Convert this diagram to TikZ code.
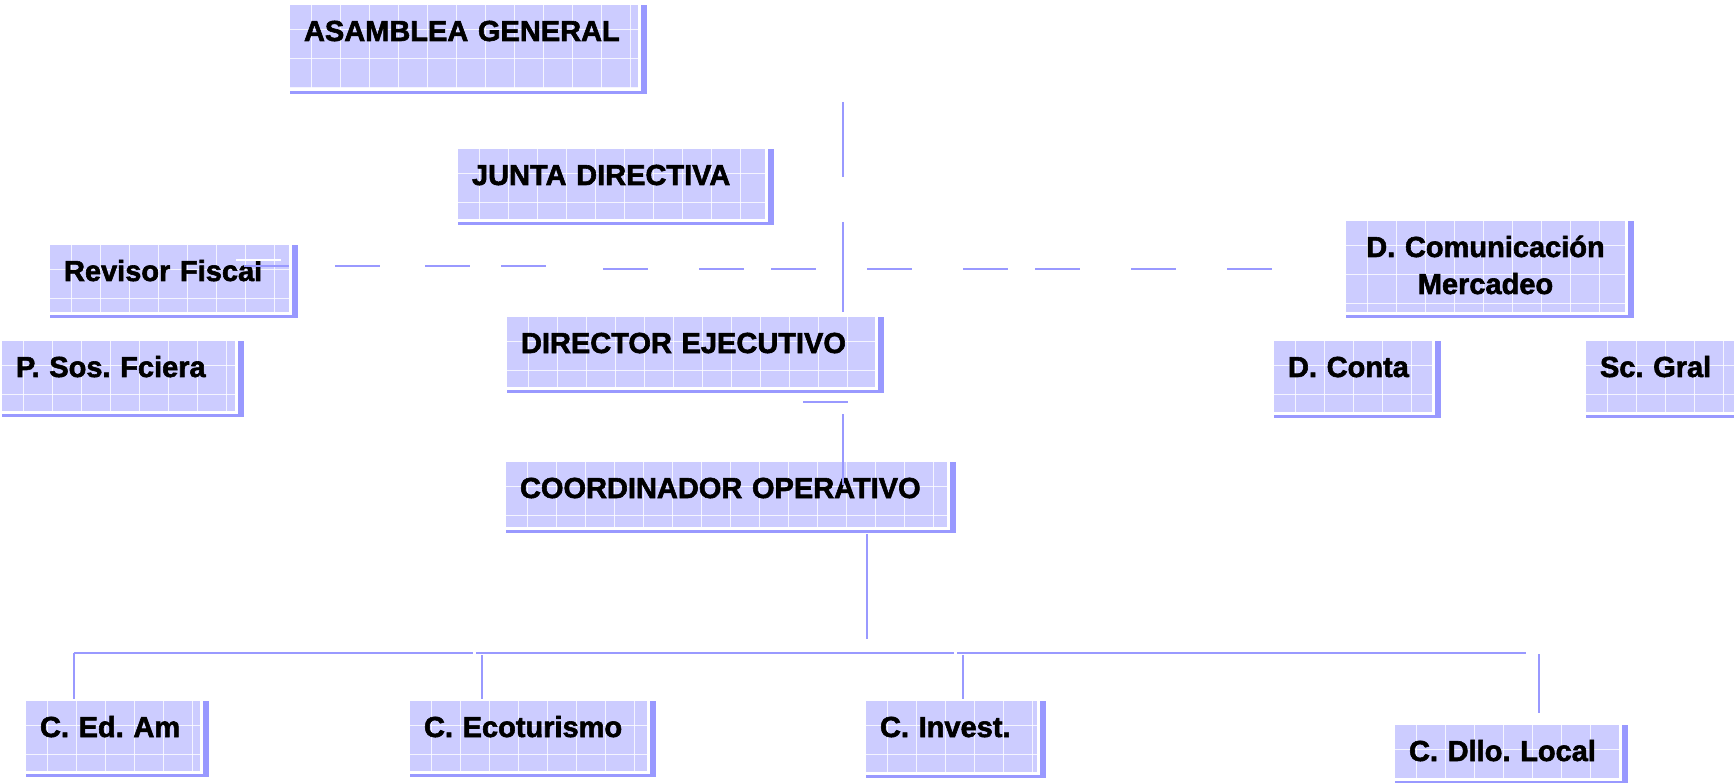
\documentclass[tikz,border=0pt]{standalone}
\usepackage{fontspec}
\setmainfont{Liberation Sans}[BoldFeatures={FakeBold=2}]
\definecolor{boxfill}{RGB}{204,204,255}
\definecolor{boxshade}{RGB}{153,153,255}
\definecolor{linkblue}{RGB}{153,153,255}
\tikzset{
  gridline/.style={white, line width=0.7pt, opacity=0.8},
  orgbox/.style={anchor=north west, fill=boxfill, inner xsep=14pt, inner ysep=0pt,
    outer sep=0pt, text height=36pt, align=left,
    font=\fontsize{29}{37}\selectfont\bfseries\frenchspacing,
    path picture={
      \foreach \k in {0,...,15}
        \draw[gridline] ([xshift={21pt+\k*29pt}]path picture bounding box.north west)
          -- ([xshift={21pt+\k*29pt}]path picture bounding box.south west);
      \foreach \k in {0,...,3}
        \draw[gridline] ([yshift={-24pt-\k*29pt}]path picture bounding box.north west)
          -- ([yshift={-24pt-\k*29pt}]path picture bounding box.north east);
    }},
  link/.style={draw=linkblue, line width=2.5pt}
}
\begin{document}
\begin{tikzpicture}[x=1pt,y=-1pt]
\useasboundingbox (0,0) rectangle (1734,783);

% top of the chart
\node[orgbox, text width=320pt, text depth=47pt] (asamblea) at (290,5) {ASAMBLEA GENERAL};
\node[orgbox, text width=279pt, text depth=34pt] (junta) at (458,149) {JUNTA DIRECTIVA};
\node[orgbox, text width=211pt, text depth=31pt] (revisor) at (50,245) {Revisor Fiscal};
\node[orgbox, text width=251pt, text depth=55pt, align=center] (comunica) at (1346,221) {D. Comunicación\\Mercadeo};
\node[orgbox, text width=340pt, text depth=34pt] (director) at (507,317) {DIRECTOR EJECUTIVO};
\node[orgbox, text width=205pt, text depth=34pt] (psos) at (2,341) {P. Sos. Fciera};
\node[orgbox, text width=130pt, text depth=35pt] (conta) at (1274,341) {D. Conta};
\node[orgbox, text width=132pt, text depth=35pt] (scgral) at (1586,341) {Sc. Gral};
\node[orgbox, text width=413pt, text depth=29pt] (coord) at (506,462) {COORDINADOR OPERATIVO};

% coordinaciones
\node[orgbox, text width=146pt, text depth=34pt] (edam) at (26,701) {C. Ed. Am};
\node[orgbox, text width=209pt, text depth=34pt] (ecotur) at (410,701) {C. Ecoturismo};
\node[orgbox, text width=143pt, text depth=35pt] (invest) at (866,701) {C. Invest.};
\node[orgbox, text width=196pt, text depth=17pt] (dllo) at (1395,725) {C. Dllo. Local};

% shadows
\foreach \n in {asamblea,junta,revisor,comunica,director,psos,conta,scgral,coord,edam,ecotur,invest,dllo} {
  \fill[boxshade] ([xshift=3pt]\n.north east) rectangle ([xshift=9pt,yshift=-6pt]\n.south east);
  \fill[boxshade] ([yshift=-3pt]\n.south west) rectangle ([xshift=9pt,yshift=-6pt]\n.south east);
}

% vertical chain
\coordinate (ag top) at (843,102);
\coordinate (ag bot) at (843,177);
\coordinate (jd top) at (843,222);
\coordinate (jd bot) at (843,312);
\coordinate (de left) at (803,402);
\coordinate (de right) at (848,402);
\coordinate (de top) at (843,414);
\coordinate (de bot) at (843,485);
\coordinate (co top) at (867,534);
\coordinate (co bot) at (867,639);
\draw[link] (ag top) -- (ag bot);
\draw[link] (jd top) -- (jd bot);
\draw[link] (de left) -- (de right);
\draw[link] (de top) -- (de bot);
\draw[link] (co top) -- (co bot);

% dashed staff line
\coordinate (rf a) at (244,266);
\coordinate (rf b) at (546,266);
\coordinate (dc a) at (603,269);
\coordinate (dc b) at (1272,269);
\draw[white, line width=2pt] (236,260) -- (281,260);
\draw[link, dash pattern=on 45pt off 46pt on 45pt off 45pt on 45pt off 31pt on 45pt off 100pt] (rf a) -- (rf b);
\draw[link, dash pattern=on 45pt off 51pt on 45pt off 27pt on 45pt off 51pt] (dc a) -- (dc b);

% bus
\coordinate (bus a) at (74,653);
\coordinate (bus b) at (473,653);
\coordinate (bus c) at (476,653);
\coordinate (bus d) at (954,653);
\coordinate (bus e) at (957,653);
\coordinate (bus f) at (1526,653);
\draw[link] (bus a) -- (bus b);
\draw[link] (bus c) -- (bus d);
\draw[link] (bus e) -- (bus f);
\draw[link] (bus a) -- (74,699);
\draw[link] (482,655) -- (482,699);
\draw[link] (963,655) -- (963,699);
\draw[link] (1539,654) -- (1539,713);

\end{tikzpicture}
\end{document}
